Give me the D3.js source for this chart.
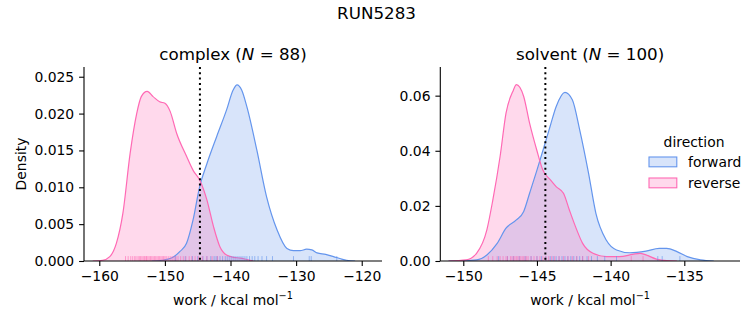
<!DOCTYPE html>
<html>
<head>
<meta charset="utf-8">
<script src="https://cdn.jsdelivr.net/npm/d3@7"></script>
<style>
  body { margin: 0; background: #fff; }
  svg { display: block; font-family: "DejaVu Sans", sans-serif; }
</style>
</head>
<body>
<svg id="chart" width="753" height="325"></svg>
<script>
// ---------------- data ----------------
const directions = ["forward", "reverse"];
const colors = { forward: "#6495ED", reverse: "#FF69B4" };

// KDE curves: [work, density]
const complexForwardDensity = [[-152,0],[-150.5,0.0001],[-149,0.0004],[-147.7,0.0013],[-146.7,0.0024],[-145.7,0.0056],[-144.7,0.0101],[-143.6,0.0132],[-142.1,0.0169],[-140.6,0.0205],[-139.6,0.0232],[-139.0,0.0239],[-138.3,0.0232],[-137.5,0.0209],[-136.0,0.0151],[-134.5,0.0087],[-132.9,0.0042],[-131.4,0.0017],[-130.4,0.0014],[-129.4,0.0014],[-128.4,0.0016],[-127.6,0.0015],[-126.8,0.0011],[-125.5,0.0009],[-124.3,0.0006],[-123.2,0.0003],[-122.3,0.0001],[-121,0]];
const complexReverseDensity = [[-161,0],[-159.5,0.0001],[-158.4,0.0006],[-157.4,0.0024],[-156.4,0.0065],[-155.3,0.0146],[-154.3,0.0200],[-153.6,0.0223],[-152.7,0.0230],[-151.8,0.0223],[-150.8,0.0216],[-150.0,0.0214],[-149.2,0.0203],[-148.2,0.0173],[-146.7,0.0142],[-145.7,0.0123],[-144.7,0.0110],[-143.6,0.0083],[-142.6,0.0047],[-141.6,0.0019],[-140.6,0.0008],[-139.5,0.0005],[-138.5,0.0004],[-137.5,0.0002],[-136.5,0]];
const solventForwardDensity = [[-151,0],[-150.2,0.0001],[-149.1,0.0004],[-148.4,0.0022],[-147.7,0.0064],[-147.1,0.0119],[-146.4,0.0149],[-145.9,0.0180],[-145.5,0.0246],[-145.0,0.0330],[-144.6,0.0400],[-144.1,0.0490],[-143.7,0.0560],[-143.1,0.0612],[-142.6,0.0585],[-142.1,0.0476],[-141.5,0.0319],[-141.0,0.0173],[-140.3,0.0076],[-139.6,0.0040],[-138.7,0.0030],[-137.6,0.0036],[-136.7,0.0046],[-136.2,0.0046],[-135.5,0.0034],[-134.8,0.0016],[-133.9,0.0004],[-133.0,0]];
const solventReverseDensity = [[-151,0],[-149.8,0.0004],[-149.1,0.0028],[-148.4,0.0113],[-148.0,0.0220],[-147.5,0.0380],[-147.1,0.0537],[-146.6,0.0620],[-146.4,0.0640],[-145.9,0.0597],[-145.5,0.0500],[-145.0,0.0400],[-144.6,0.0330],[-144.1,0.0295],[-143.7,0.0270],[-143.2,0.0246],[-142.8,0.0185],[-142.3,0.0113],[-141.9,0.0064],[-141.2,0.0028],[-140.3,0.0016],[-139.4,0.0016],[-138.5,0.0024],[-138.0,0.0028],[-137.6,0.0022],[-136.9,0.0007],[-136.2,0.0001],[-135.5,0]];

// rug samples (work values)
const complexForwardRug = [-148.4,-146.9,-145.8,-145.0,-144.2,-143.6,-143.0,-142.5,-142.2,-142.0,-141.6,-141.2,-140.8,-140.5,-140.2,-139.9,-139.6,-139.3,-139.0,-138.7,-138.4,-138.1,-137.8,-137.5,-137.1,-136.7,-136.3,-135.8,-135.2,-134.5,-133.6,-130.4,-128.0,-127.7,-123.8];
const complexReverseRug = [-156.0,-155.6,-155.2,-154.9,-154.6,-154.4,-154.1,-153.9,-153.7,-153.5,-153.3,-153.1,-152.9,-152.8,-152.6,-152.4,-152.2,-152.0,-151.8,-151.6,-151.4,-151.2,-151.0,-150.8,-150.6,-150.4,-150.2,-150.0,-149.8,-149.5,-149.2,-148.9,-148.6,-148.3,-148.0,-147.6,-147.2,-146.8,-146.3,-145.9,-145.4,-144.9,-144.3,-143.6,-142.8,-142.0];
const solventForwardRug = [-147.6,-147.0,-146.6,-146.2,-145.8,-145.4,-145.0,-144.7,-144.4,-144.1,-143.9,-143.7,-143.5,-143.3,-143.1,-142.9,-142.7,-142.5,-142.3,-142.1,-141.9,-141.6,-141.3,-140.9,-140.4,-139.6,-136.8,-136.5,-135.3];
const solventReverseRug = [-148.3,-148.0,-147.7,-147.5,-147.3,-147.1,-147.0,-146.8,-146.7,-146.6,-146.5,-146.4,-146.3,-146.2,-146.1,-146.0,-145.9,-145.8,-145.7,-145.6,-145.4,-145.2,-145.0,-144.8,-144.6,-144.4,-144.2,-144.0,-143.8,-143.5,-143.2,-142.9,-142.6,-142.3,-141.9,-141.5,-138.6,-137.8];

// dotted reference lines (work)
const complexRefLine = -144.66;
const solventRefLine = -144.43;

// tick values
const complexXTicks = [-160, -150, -140, -130, -120];
const complexYTicks = [0, 0.005, 0.010, 0.015, 0.020, 0.025];
const solventXTicks = [-150, -145, -140, -135];
const solventYTicks = [0, 0.02, 0.04, 0.06];

const suptitle = "RUN5283";

// ---------------- drawing ----------------
const svg = d3.select("#chart");
const FS = 13.9;

svg.append("text").attr("x", 376.5).attr("y", 19)
  .attr("text-anchor", "middle").attr("font-size", 16.7).text(suptitle);

const panels = [
  { name: "complex", n: 88, x0: 84, x1: 382, xdom: [-162.33, -116.91], ydom: [0, 0.02632],
    xTicks: complexXTicks, yTicks: complexYTicks, yfmt: ".3f",
    dens: { forward: complexForwardDensity, reverse: complexReverseDensity },
    rug: { forward: complexForwardRug, reverse: complexReverseRug }, ref: complexRefLine, ylabel: true },
  { name: "solvent", n: 100, x0: 440.3, x1: 740, xdom: [-151.56, -131.22], ydom: [0, 0.0704],
    xTicks: solventXTicks, yTicks: solventYTicks, yfmt: ".2f",
    dens: { forward: solventForwardDensity, reverse: solventReverseDensity },
    rug: { forward: solventForwardRug, reverse: solventReverseRug }, ref: solventRefLine, ylabel: false }
];
const yTop = 67, yBot = 261;

panels.forEach(p => {
  const x = d3.scaleLinear().domain(p.xdom).range([p.x0, p.x1]);
  const y = d3.scaleLinear().domain(p.ydom).range([yBot, yTop]);
  const g = svg.append("g");
  const clipId = "clip-" + p.name;
  svg.append("clipPath").attr("id", clipId).append("rect")
    .attr("x", p.x0).attr("y", yTop).attr("width", p.x1 - p.x0).attr("height", yBot - yTop);
  const plot = g.append("g").attr("clip-path", `url(#${clipId})`);

  const area = d3.area().x(d => x(d[0])).y0(y(0)).y1(d => y(d[1])).curve(d3.curveMonotoneX);
  const line = d3.line().x(d => x(d[0])).y(d => y(d[1])).curve(d3.curveMonotoneX);

  directions.forEach(dir => {
    plot.append("path").datum(p.dens[dir]).attr("d", area)
      .attr("fill", colors[dir]).attr("fill-opacity", 0.25).attr("stroke", "none");
  });
  directions.forEach(dir => {
    plot.append("path").datum(p.dens[dir]).attr("d", line)
      .attr("fill", "none").attr("stroke", colors[dir]).attr("stroke-width", 1.2);
  });
  // rugs
  directions.forEach(dir => {
    plot.selectAll(null).data(p.rug[dir]).enter().append("line")
      .attr("x1", d => x(d)).attr("x2", d => x(d))
      .attr("y1", yBot).attr("y2", yBot - 4.9)
      .attr("stroke", colors[dir]).attr("stroke-opacity", 0.6).attr("stroke-width", 1);
  });
  // reference line
  plot.append("line").attr("x1", x(p.ref)).attr("x2", x(p.ref))
    .attr("y1", yTop).attr("y2", yBot)
    .attr("stroke", "#000").attr("stroke-width", 2).attr("stroke-dasharray", "2,3.3");

  // axes
  const xAxis = d3.axisBottom(x).tickValues(p.xTicks).tickSize(4.9).tickPadding(5.5)
    .tickFormat(d => d3.format("d")(d).replace("-", "\u2212"));
  const gx = g.append("g").attr("transform", `translate(0,${yBot})`).call(xAxis);
  gx.select(".domain").attr("d", `M${p.x0},0H${p.x1}`).attr("stroke-width", 1.1);
  gx.selectAll(".tick line").attr("stroke-width", 1.1);
  gx.selectAll("text").attr("font-size", FS).attr("font-family", "DejaVu Sans").attr("fill", "#000");

  const yAxis = d3.axisLeft(y).tickValues(p.yTicks).tickSize(4.9).tickPadding(4.9)
    .tickFormat(d3.format(p.yfmt));
  const gy = g.append("g").attr("transform", `translate(${p.x0},0)`).call(yAxis);
  gy.select(".domain").attr("d", `M0,${yBot}V${yTop}`).attr("stroke-width", 1.1);
  gy.selectAll(".tick line").attr("stroke-width", 1.1);
  gy.selectAll("text").attr("font-size", FS).attr("font-family", "DejaVu Sans").attr("fill", "#000");

  // title
  const cx = (p.x0 + p.x1) / 2;
  const t = svg.append("text").attr("x", cx).attr("y", 60).attr("text-anchor", "middle").attr("font-size", 16.7);
  t.append("tspan").text(p.name + " (");
  t.append("tspan").attr("font-style", "italic").text("N");
  t.append("tspan").text(" = " + p.n + ")");

  // x label
  const xl = svg.append("text").attr("x", cx).attr("y", 305).attr("text-anchor", "middle").attr("font-size", FS);
  xl.append("tspan").text("work / kcal mol");
  xl.append("tspan").attr("font-size", FS * 0.7).attr("dy", -6).text("\u22121");

  if (p.ylabel) {
    svg.append("text").attr("transform", `translate(26,${(yTop + yBot) / 2}) rotate(-90)`)
      .attr("text-anchor", "middle").attr("font-size", FS).text("Density");
  }
});

// legend
const lg = svg.append("g");
lg.append("text").attr("x", 694).attr("y", 146.5).attr("text-anchor", "middle").attr("font-size", FS).text("direction");
directions.forEach((dir, i) => {
  const yy = 157 + i * 21;
  lg.append("rect").attr("x", 649).attr("y", yy).attr("width", 27.8).attr("height", 9.8)
    .attr("fill", colors[dir]).attr("fill-opacity", 0.25).attr("stroke", colors[dir]).attr("stroke-width", 1.1);
  lg.append("text").attr("x", 688).attr("y", yy + 9.5).attr("font-size", FS).text(dir);
});
</script>
</body>
</html>
